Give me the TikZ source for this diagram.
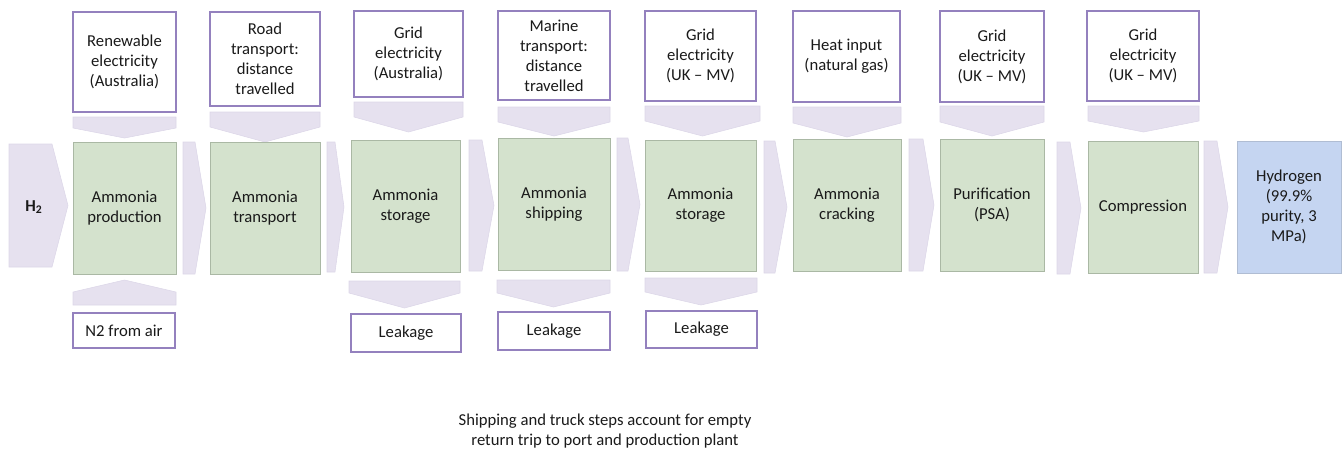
\documentclass[tikz,border=0pt]{standalone}
\usepackage{fontspec}
\setmainfont{Carlito}
\definecolor{chevfill}{HTML}{E6E1EF}
\definecolor{chevline}{HTML}{DCD6E8}
\definecolor{boxpurple}{HTML}{9481BE}
\definecolor{greenfill}{HTML}{D4E2CD}
\definecolor{greenline}{HTML}{AAB8A4}
\definecolor{bluefill}{HTML}{C5D5F1}
\definecolor{blueline}{HTML}{B0BDD3}
\definecolor{txt}{HTML}{1A1A1A}
\tikzset{
  basefont/.style={font=\fontsize{12.5}{15}\selectfont, text=txt},
  inbox/.style={basefont, draw=boxpurple, line width=1.1pt, fill=white, inner sep=0pt, align=center},
  stage/.style={basefont, draw=greenline, line width=0.6pt, fill=greenfill, inner sep=0pt, align=center},
  product/.style={basefont, draw=blueline, line width=0.6pt, fill=bluefill, inner sep=0pt, align=center},
  chev/.style={fill=chevfill, draw=chevline, line width=0.4pt},
}
\newcommand{\hchev}[5]{% x1 x2 y1 y2 d
  \path[chev] (#1,#3) -- ({#2-#5},#3) -- (#2,{(#3+#4)/2}) -- ({#2-#5},#4) -- (#1,#4) -- cycle;}
\newcommand{\dchev}[5]{% x1 x2 ybase yside ytip
  \path[chev] (#1,#3) -- (#2,#3) -- (#2,#4) -- ({(#1+#2)/2},#5) -- (#1,#4) -- cycle;}
\newcommand{\blk}[7]{% style name x1 y1 x2 y2 text
  \node[#1, minimum width={(#5-#3)*0.75pt}, minimum height={(#6-#4)*0.75pt}] (#2) at ({(#3+#5)/2},{(#4+#6)/2}) {#7};}
\begin{document}
\begin{tikzpicture}[x=0.75pt,y=-0.75pt]
\useasboundingbox (0,0) rectangle (1343,451);
% horizontal chevrons
\hchev{9}{68}{144}{267}{16}
\node[basefont, font=\fontsize{12.5}{15}\selectfont\bfseries] (h2) at (34,207) {H\textsubscript{2}};
\hchev{183}{206}{142}{274}{11}
\hchev{327}{344}{142}{272}{9}
\hchev{469}{494}{140}{271}{12}
\hchev{617}{640}{138}{271}{12}
\hchev{764}{787}{141}{273}{12}
\hchev{909}{934}{139}{271}{11}
\hchev{1057}{1081}{142}{274}{11}
\hchev{1204}{1228}{141}{273}{11}
% downward chevrons (inputs)
\dchev{73}{176}{117}{128}{138}
\dchev{210}{320}{112}{127}{142}
\dchev{354}{463}{102}{117}{132}
\dchev{498}{610}{107}{122}{136}
\dchev{645}{760}{106}{121}{136}
\dchev{793}{901}{107}{123}{137}
\dchev{940}{1044}{106}{122}{136}
\dchev{1088}{1199}{106}{121}{132}
% lower chevrons
\dchev{73}{176}{305}{292}{280}
\dchev{349}{460}{281}{293}{308}
\dchev{497}{610}{280}{293}{307}
\dchev{645}{757}{278}{292}{305}
% input boxes
\blk{inbox}{t1}{73}{12}{176}{112}{Renewable\\electricity\\(Australia)}
\blk{inbox}{t2}{210}{12}{320}{106}{Road\\transport:\\distance\\travelled}
\blk{inbox}{t3}{354}{11}{463}{97}{Grid\\electricity\\(Australia)}
\blk{inbox}{t4}{498}{11}{610}{100}{Marine\\transport:\\distance\\travelled}
\blk{inbox}{t5}{645}{11}{756}{101}{Grid\\electricity\\(UK – MV)}
\blk{inbox}{t6}{793}{11}{900}{102}{Heat input\\(natural gas)}
\blk{inbox}{t7}{940}{11}{1044}{102}{Grid\\electricity\\(UK – MV)}
\blk{inbox}{t8}{1087}{11}{1199}{101}{Grid\\electricity\\(UK – MV)}
% stages
\blk{stage}{g1}{73}{142}{176}{274}{Ammonia\\production}
\blk{stage}{g2}{210}{142}{320}{274}{Ammonia\\transport}
\blk{stage}{g3}{351}{140}{460}{272}{Ammonia\\storage}
\blk{stage}{g4}{498}{138}{610}{270}{Ammonia\\shipping}
\blk{stage}{g5}{645}{140}{756}{271}{Ammonia\\storage}
\blk{stage}{g6}{793}{139}{901}{271}{Ammonia\\cracking}
\blk{stage}{g7}{940}{139}{1044}{271}{Purification\\(PSA)}
\blk{stage}{g8}{1088}{141}{1198}{273}{Compression}
\blk{product}{hy}{1237}{141}{1341}{273}{Hydrogen\\(99.9\%\\purity, 3\\MPa)}
% bottom boxes
\blk{inbox}{n2}{73}{313}{175}{348}{N2 from air}
\blk{inbox}{l3}{351}{314}{461}{352}{Leakage}
\blk{inbox}{l4}{498}{312}{610}{350}{Leakage}
\blk{inbox}{l5}{646}{311}{757}{348}{Leakage}
% note
\node[basefont, align=center] (note) at (605,431) {Shipping and truck steps account for empty\\return trip to port and production plant};
\end{tikzpicture}
\end{document}
